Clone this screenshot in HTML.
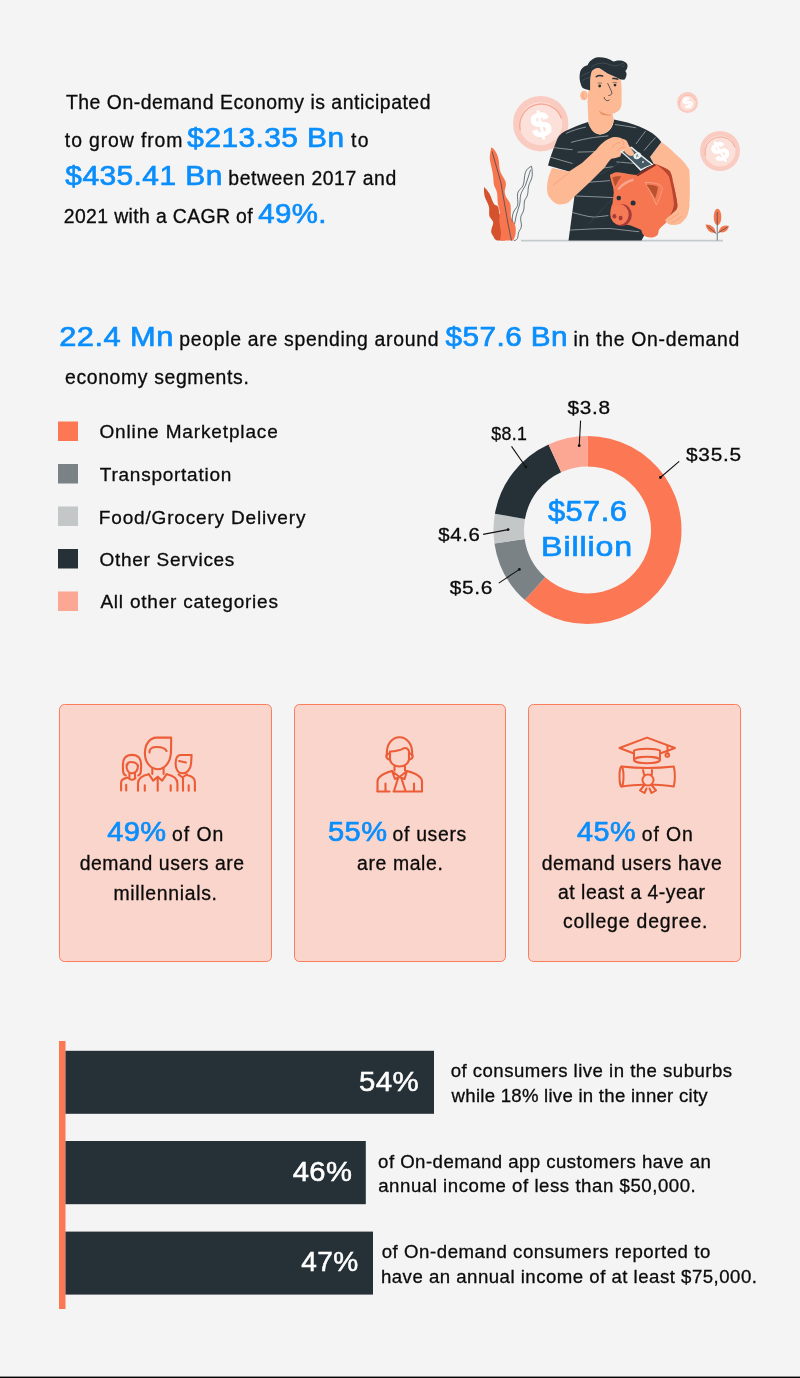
<!DOCTYPE html>
<html><head><meta charset="utf-8"><title>On-demand Economy</title>
<style>html,body{margin:0;padding:0;background:#f4f4f4;overflow:hidden}svg{display:block;will-change:transform}text{font-family:"Liberation Sans",sans-serif}</style>
</head><body>
<svg width="800" height="1378" viewBox="0 0 800 1378">
<rect width="800" height="1378" fill="#f4f4f4"/>
<circle cx="540.7" cy="123.7" r="27.7" fill="#f9cbc1"/>
<circle cx="540.7" cy="123.7" r="21.5" fill="#fbe1da"/>
<path d="M520.28,130.37 A21.5,21.5 0 0 1 561.56,118.54" fill="none" stroke="#f6a895" stroke-width="1.39"/>
<text x="540.7" y="136.65" font-size="35" font-weight="bold" fill="#ffffff" stroke="#ffffff" stroke-width="1.05" text-anchor="middle" transform="rotate(-12 540.7 123.7)">$</text>
<circle cx="687.5" cy="102.5" r="10.5" fill="#f9cbc1"/>
<circle cx="687.5" cy="102.5" r="8" fill="#fbe1da"/>
<path d="M679.90,104.98 A8,8 0 0 1 695.26,100.58" fill="none" stroke="#f6a895" stroke-width="0.70"/>
<text x="687.5" y="107.9" font-size="15" font-weight="bold" fill="#ffffff" stroke="#ffffff" stroke-width="0.45" text-anchor="middle" transform="rotate(-30 687.5 102.5)">$</text>
<circle cx="720" cy="151" r="20" fill="#f9cbc1"/>
<circle cx="720" cy="151" r="15.5" fill="#fbe1da"/>
<path d="M705.27,155.81 A15.5,15.5 0 0 1 735.03,147.28" fill="none" stroke="#f6a895" stroke-width="1.00"/>
<text x="720" y="160.72" font-size="27" font-weight="bold" fill="#ffffff" stroke="#ffffff" stroke-width="0.81" text-anchor="middle" transform="rotate(-30 720 151)">$</text>
<path d="M484.1,186.9 C486.5,189 488,191.5 489.4,193.4 C490.8,196 491.8,199 492.5,201 C493.3,203 494,204 494.8,204.8 C496.5,205.5 497.8,206 498.2,207.1 C499,209.5 499,211.5 499,213.2 L503,217.7 L505,240.6 L497,240.6 C495,239.5 493.8,238 493.2,236 C491.5,234 490.8,232 491.3,230 C491.8,227 493.5,224.5 493.2,222.3 C492.5,219.5 490,218 489.4,216.2 C488.8,213 489.5,210 489,207 C488,203 486,200 484.9,197.2 C484,194 483.8,190 484.1,186.9 Z" fill="#d4532e"/>
<path d="M491.3,147.2 C493.5,148.5 495.3,150.5 496.3,153 C497.5,155 498.2,157.5 498.6,159.8 C499.2,163 499.2,166 499.7,169 C500,171 500.8,172.8 501.6,174.3 C502.8,176.5 504.5,179 505.4,181.2 C506,183 506,184.5 505.8,185.7 C505.5,188 504.6,190 504.7,191.8 C504.9,194 505.5,195.8 506.2,197.2 C507.5,199.3 509,201 510,203.3 C510.7,205 510.8,207 510.8,208.6 L510.8,216.2 C511.3,218.5 512.5,220.5 513.8,222.3 C515,224.5 515.6,226.5 515.7,228.4 C515.9,231 515.8,233.5 515.3,235.3 C514.8,237.5 514,239.3 513,240.6 L500.1,240.6 C500.5,237.5 501.3,234 500.9,231.5 C500.4,227.5 499.4,223.5 499.3,220 C499.2,217.5 499.9,214.8 499.7,212.4 C499.5,209 498.2,206.5 497.8,203.3 C497.3,199.5 497.6,196 497,192.6 C496.5,189.5 494.6,187.5 494,185 C493.3,181.5 493.5,177.5 492.9,174.3 C492.3,171 491.6,168 491,165.2 C490.4,162.5 489.8,160 489.8,157.5 C489.8,155 490.2,152.5 490.6,150.7 Z" fill="#f7764f"/>
<path d="M492.1,151.4 C495,162 498,172 500.9,182.7 C504,200 507,220 511.5,240.6" stroke="#37474f" stroke-width="0.75" fill="none"/>
<path d="M531.4,166.3 C532.3,169.5 532.5,173.5 532.1,176.6 C531.5,180 529.5,182.5 528.7,185.7 C527.8,189 528.3,192 527.5,194.9 C526.8,197.5 525,199 524.5,201 C523.8,204 524.5,207 523.7,210.1 C523,213 521,215 520.7,217.7 C520.4,220.5 521.6,223.5 521.4,226.1 C521.2,229 519.2,230.5 518.4,233 C517.8,235 518.3,236.5 517.6,238.3 C516.5,240 515,240.6 513.8,240.6 M512.3,221.5 C512,218 512.5,215.5 513.1,213.2 C514,210 516.8,208 517.6,205.5 C518.5,202 517,197 517.6,193.4 C518.3,190 521.8,188.5 523,185.7 C524.5,182 524.2,176 525.3,172.8 C526,170.5 527.3,169.2 528.3,168.2 C529.3,167.3 530.5,166.6 531.4,166.3" stroke="#37474f" stroke-width="0.75" fill="none"/>
<path d="M530.6,169.7 C529,175 527,181 525.3,185.7 C523.5,189 521.5,191.5 520.7,194.9 C519.8,198.5 520.5,201.5 519.5,204.8 C518.5,208.5 516.8,212.5 516.1,216.2 C515.5,219 515.2,221.5 514.6,223.8" stroke="#37474f" stroke-width="0.75" fill="none"/>
<path d="M521,240.7 L723,240.7" stroke="#c5cacd" stroke-width="1.7"/>
<ellipse cx="717.5" cy="217" rx="3.8" ry="8.2" fill="#f4784f"/>
<path d="M705.5,224.5 Q707,233.4 716,233 Q714.5,224.1 705.5,224.5 Z" fill="#f4784f"/>
<path d="M729,226 Q726.75,234.2 718.5,232 Q720.75,223.8 729,226 Z" fill="#f4784f"/>
<path d="M717.25,240.5 L717.25,212 M716.5,234 L707.5,226 M718,233 L727.5,227" stroke="#37474f" stroke-width="0.7" fill="none"/>
<path d="M661.3,141.9 C667,146 672,150 675,153.8 C680,158 685,162 689.4,170 C690,185 690,195 689.4,205 C688.5,212 685,219 680,223.8 C676,225 672,225 668,224 L655,165 L650,157 Z" fill="#fdb994"/>
<path d="M588,121.9 C580,124 572,128 565,131.3 C560,134 558,137 556.5,141 C553,150 550,158 548,165.5 L569,171.5 L574.5,196 L568.5,240.5 L641.5,240.5 L655,215 L660,175 L650,157 L661.3,141.9 C655,133 645,128 627.5,122.5 L613.8,119.4 C613.5,126 610,133 600,134.4 C594,134 590,128 588,121.9 Z" fill="#263238"/>
<clipPath id="shc"><path d="M588,121.9 C580,124 572,128 565,131.3 C560,134 558,137 556.5,141 C553,150 550,158 548,165.5 L569,171.5 L574.5,196 L568.5,240.5 L641.5,240.5 L655,215 L660,175 L650,157 L661.3,141.9 C655,133 645,128 627.5,122.5 L613.8,119.4 C613.5,126 610,133 600,134.4 C594,134 590,128 588,121.9 Z"/></clipPath>
<path d="M566.1,133.4 C572,130.5 579,128.5 586,127 M571,142.4 C580,140 587,138.5 593.7,137.5 C599,136.8 604,136.2 608.4,135.9 M614.9,124.5 C622,125.5 629,126.5 636,127.8 M551.5,147.2 C558,148.2 565,149 572.6,149.7 M577.5,152.1 C586,152 595,151.6 603.5,151.3 M549.9,157 C557,159 565,161.5 572.6,163.5 M636,144 C639,139.5 642.5,135 645.7,131 M644.1,150.5 C648,146 651.5,141.5 655.5,137.5 M616.5,161.9 C623,162.5 629,163 636,163.5 M600.2,168.4 C605,167.8 609,167.2 613.2,166.7 M588.9,182.2 C596,181.8 603,181.2 610,180.6 M575.9,196 C588,196.5 600,197 613.2,197.6 M571,212.2 C579,214 586,216.5 593.7,217.1 C599,217 604,216 608.4,215.5 M569.4,230.1 C583,229.5 596,228.5 610,228.5 C620,229.5 630,231 639.2,231.7" stroke="#c9d0d3" stroke-width="0.75" fill="none" opacity="0.8" clip-path="url(#shc)"/>
<path d="M588.9,223.6 L613.2,197.6 M600.2,174.9 L626.2,158.6" stroke="#3c4b53" stroke-width="0.6" fill="none"/>
<path d="M587.5,100 L588.4,122 C590,129 594,134 600,134.4 C608,134 612.5,128 613.8,120 L612,112 Z" fill="#fdb994"/>
<ellipse cx="584" cy="95.5" rx="3.8" ry="4.8" fill="#fdb994"/>
<path d="M583,93 C582,96 583,98 585,99" stroke="#e9906a" stroke-width="0.5" fill="none"/>
<path d="M591.9,71 C594,68.5 597,67.5 599,68 C603,70 605,72.5 607.6,73.4 C612,75.5 617,77.5 620.7,79.2 C621.5,84 621.8,90 621.6,94 L621.6,104.2 C621,108 619.5,110 619,110.4 C616,112.5 614,113.5 612,113.9 C609,114.5 606,114 605,113 C601,112 599,111 598.9,110.4 C594,108 590,106 588,103 C587.5,96 588.5,88 590.1,84 L590.5,76 Z" fill="#fdb994"/>
<path d="M598.9,110.4 C602,113 607,114.8 612,114.7 C610,115.8 606,116 602,114.8 C600.5,113.5 599.5,112 598.9,110.4 Z" fill="#ea9068"/>
<path d="M582.2,87.6 C580.5,84 579.4,80 579.6,76.2 C579.8,72.5 580.5,70.5 581.4,69.2 C583,67 585.5,65.8 587.5,65.3 C588.5,63 589.5,61.5 591,60.5 C593,58.5 595.5,57.5 598,57.2 C601,57 604,57.5 606.7,58.3 C609,59 611.5,60.5 613.7,61.6 C615.5,60.8 618,60.3 620.7,60.5 C624,61 626.5,62.5 627.3,64.5 C628,66.5 627,69.5 625.3,71 C626.5,72.5 626.8,74 626.4,75.4 C626,77.5 625,79 624.2,79.7 L620.7,79.5 C617,77.5 612,75.5 607.6,73.4 C605,72.3 603,70 599,68 C596,67.5 593.5,69 591.9,71 C590.6,74 590.3,78 590.1,82 L590.1,90.2 C587,90 584,89 582.2,87.6 Z" fill="#263238"/>
<path d="M591,67.5 C596,63 603,62 609,64.5 C614,66.5 618,66 621,64 C623,62.5 624.5,63.5 624,65.5 C623.5,67 621.5,67 621.5,65.5 M581.4,76.2 C584,74.5 587,73 589.8,72 M582.2,80.5 C584.5,79 587,78 590,77.5" stroke="#56666e" stroke-width="0.5" fill="none"/>
<circle cx="599.7" cy="86" r="1.4" fill="#263238"/><circle cx="615" cy="85.1" r="1.4" fill="#263238"/>
<path d="M596.3,76.6 C598,75.6 600.5,75.4 602.6,76 M612.9,78.6 C614.5,78.2 616.5,78.5 617.8,79.2" stroke="#263238" stroke-width="1.5" stroke-linecap="round" fill="none"/>
<path d="M597.5,83.3 C599,82.8 600.5,82.8 602,83.3 M612.5,82.6 C614,82.2 615.5,82.3 617,82.8" stroke="#263238" stroke-width="0.5" fill="none"/>
<path d="M607.6,83.2 C609.5,87 611,90 612,93 C611.5,95 609.5,95.6 608.4,95.5" stroke="#263238" stroke-width="0.75" fill="none"/>
<path d="M604.1,97.2 C604.6,99.5 606,100.8 607.5,100.7 C608.5,100.6 609.2,100.2 609.5,99.8" stroke="#263238" stroke-width="0.8" fill="none"/>
<circle cx="598" cy="90.5" r="0.35" fill="#e9906a"/><circle cx="600" cy="91.5" r="0.35" fill="#e9906a"/><circle cx="615.5" cy="90" r="0.35" fill="#e9906a"/><circle cx="617.5" cy="91" r="0.35" fill="#e9906a"/>
<path d="M552,168 C549,174 547,181 547,188 C547,193 548,196 550,198 C553,202 556,204.5 560,204.5 C564,204.5 567,203.5 569,202 C571,200 573,198 575,196 L590,182 L605,167 C607,164 609,161 611.3,158.8 C614,158.3 617,157.5 620.2,156.4 L621.8,152.3 C624,151 627,149 629.1,146.6 L628.3,144.2 C628,143 627.2,141.5 625.9,140.1 C625,139.5 623.5,139 621.8,138.5 C620.5,137.8 618.5,137 616,136.9 C614,136.8 612,137.2 609.6,138.5 C605,140 600,145 596,150 L582,163 L569,171.5 Z" fill="#fdb994"/>
<path d="M553,185.5 C558,181 563,177 569,173" stroke="#e58b64" stroke-width="0.45" fill="none"/>
<path d="M620.2,151.5 Q626,149.5 631.6,146.6 Q641,155 653.5,164.5 Q646.5,167 640.5,171 Q631,160 620.2,151.5 Z" fill="#eef1f2"/>
<path d="M622.4,151.7 Q627,150 631.4,148.4 Q640.5,156 651.3,164.4 Q646,166.3 641,169 Q632,160 622.4,151.7 Z" fill="#455a64"/>
<ellipse cx="637.3" cy="155.8" rx="4" ry="3.2" fill="#eef1f2" transform="rotate(-25 637.3 155.8)"/><circle cx="643" cy="162" r="0.9" fill="#eef1f2"/>
<path d="M636,155 L638.5,156.5 M637.5,154 L636.5,157.5" stroke="#455a64" stroke-width="0.6"/>
<path d="M627,143.5 C629.5,146 632,149.5 634,153.1 C634.2,154.3 633.8,155.2 633.2,155.6 C631.8,156 630.2,156 629.1,155.6 C627,154.5 625,152.5 624,150.5 C624.5,148 625.5,145.5 627,143.5 Z" fill="#fdb994"/>
<path d="M612.5,147.5 C614.5,143.5 618,142 621,143 M617.5,151 C619.5,148 622.5,146.5 625,147.5 M621,139 C623,140.5 624,142.5 623.5,145" stroke="#e58b64" stroke-width="0.5" fill="none"/>
<path d="M655,163.8 C662,166.5 667,168.5 670,171.3 C672,176 672.5,178 672.5,180 C674.5,188 676.5,197 677.5,205 C677.5,207 677,208.5 676.3,210 C673,214 670,218 667.5,221.3 C664,225 660,228 658.8,230 C658.5,233 658,234 657.5,235 C655,237 652.5,237.7 650,237.5 C646,237.3 643.5,235.5 642.5,233.8 C641.8,232 641.5,231 641.3,230 C637,228 633,226 628.8,225 C622,224.5 618,223 614,221 C610.5,217.5 610,212 611,208 C611.5,206 612,204.5 612.5,203.8 C613,199 613.5,195 613.8,192.5 C613,185 611.5,179 610,175 C612,173.8 614,172.8 616.3,172.5 C620,172.5 624,173.3 627.5,173.8 C630.5,174.3 633.5,174.8 636.3,175 Z" fill="#f57651"/>
<path d="M655,163.8 C662,166.5 667,168.5 670,171.3 C672,176 672.5,178 672.5,180 C674.5,188 676.5,197 677.5,205 C677.5,207 677,208.5 676.3,210 C673,214 670,218 667.5,221.3 C669.5,216 673.5,210 674,204 C673,194 671,184 669,176.5 C665,171 660,167 655,163.8 Z" fill="#b8452e"/>
<path d="M636.3,175 L655,163.8 L655.8,165.5 L637.8,176.3 Z" fill="#7d2a22"/>
<path d="M610,175 C612,173.8 614,172.8 616.3,172.5 C620,172.5 623.5,173 626.3,173.8 C622,178 618.5,184 615,190 C612.5,186 610.5,180 610,175 Z" fill="#f57a56"/>
<path d="M612.5,177.5 C615,176.3 618.5,176 621.5,176.5 C619,179.5 617,183 615.3,186.5 C614,183.5 612.8,180.5 612.5,177.5 Z" fill="#b9512f"/>
<path d="M645,182.5 C649,182.2 654,183 657.5,183.8 C660,185 662,186.5 662.5,188.8 C661,193 660,197 658.8,200 C658,202 657,204 656.3,205 C653,197 649,189 645,182.5 Z" fill="#f57a56" stroke="#f9d2c6" stroke-width="0.4"/>
<path d="M646.5,185 C650,184.5 654.5,185.3 658,186.8 C657.5,191 656.5,195 655,198.5 C652.5,193.5 649.5,189 646.5,185 Z" fill="#b9512f"/>
<path d="M618.8,188.8 C622,185 627,181.5 632.5,180" stroke="#f9a590" stroke-width="2.4" stroke-linecap="round" fill="none"/>
<circle cx="618.8" cy="198.1" r="2.3" fill="#263238"/><circle cx="633.1" cy="203.1" r="2.5" fill="#263238"/>
<ellipse cx="621.5" cy="215" rx="10.3" ry="11" fill="#a93a3a"/>
<ellipse cx="619.5" cy="214.5" rx="9.2" ry="10.4" fill="#f57a56"/>
<ellipse cx="614.4" cy="216.3" rx="2" ry="2.3" fill="#a93a3a"/><ellipse cx="620.6" cy="218.1" rx="2" ry="2.3" fill="#a93a3a"/>
<path d="M676.3,210 C679,207 684,205.5 689.4,205 C689,211 687.5,216 686.3,217.5 C684,220.5 682,222.5 680,223.8 C676,225 672,225 670,224.4 C667.5,223 666,222 665,220 C668,217 672,214 676.3,210 Z" fill="#fdb994"/>
<path d="M668,220 C672,218 676,216 679,213 M671,223 C675,221 679,219 682,216" stroke="#e58b64" stroke-width="0.45" fill="none"/>
<rect x="58" y="421.5" width="20" height="19.5" fill="#fc7753"/>
<rect x="58" y="464" width="20" height="19.5" fill="#7b8286"/>
<rect x="58" y="506.5" width="20" height="19.5" fill="#c4c7c8"/>
<rect x="58" y="549" width="20" height="19.5" fill="#263137"/>
<rect x="58" y="591.5" width="20" height="19.5" fill="#fca794"/>
<path d="M587.50,436.00 A94,94 0 1 1 524.85,600.07 L545.18,577.34 A63.5,63.5 0 1 0 587.50,466.50 Z" fill="#fc7753"/>
<path d="M524.85,600.07 A94,94 0 0 1 494.46,543.41 L524.65,539.06 A63.5,63.5 0 0 0 545.18,577.34 Z" fill="#7b8286"/>
<path d="M494.46,543.41 A94,94 0 0 1 494.93,513.68 L524.96,518.97 A63.5,63.5 0 0 0 524.65,539.06 Z" fill="#c4c7c8"/>
<path d="M494.93,513.68 A94,94 0 0 1 548.52,444.46 L561.17,472.22 A63.5,63.5 0 0 0 524.96,518.97 Z" fill="#263137"/>
<path d="M548.52,444.46 A94,94 0 0 1 587.50,436.00 L587.50,466.50 A63.5,63.5 0 0 0 561.17,472.22 Z" fill="#fca794"/>
<line x1="580.6" y1="420.6" x2="579.2" y2="445.7" stroke="#111" stroke-width="1.1"/>
<circle cx="579.2" cy="445.7" r="1.4" fill="#111"/>
<line x1="511.5" y1="446.4" x2="525.9" y2="467" stroke="#111" stroke-width="1.1"/>
<circle cx="525.9" cy="467" r="1.4" fill="#111"/>
<line x1="679.2" y1="461.4" x2="660.4" y2="477.5" stroke="#111" stroke-width="1.1"/>
<circle cx="660.4" cy="477.5" r="1.4" fill="#111"/>
<line x1="483.1" y1="534.4" x2="508.1" y2="529.6" stroke="#111" stroke-width="1.1"/>
<circle cx="508.1" cy="529.6" r="1.4" fill="#111"/>
<line x1="498.75" y1="583.1" x2="519.4" y2="569.4" stroke="#111" stroke-width="1.1"/>
<circle cx="519.4" cy="569.4" r="1.4" fill="#111"/>
<rect x="59.5" y="704.5" width="212.0" height="257" rx="5" fill="#fad5cb" stroke="#fa7d5c" stroke-width="1"/>
<rect x="294.5" y="704.5" width="211.0" height="257" rx="5" fill="#fad5cb" stroke="#fa7d5c" stroke-width="1"/>
<rect x="528.5" y="704.5" width="212.0" height="257" rx="5" fill="#fad5cb" stroke="#fa7d5c" stroke-width="1"/>
<g fill="none" stroke="#ec5d37" stroke-width="2.1" stroke-linecap="round" stroke-linejoin="round">
<path d="M171.2,737.6 L171,752 C170.6,762 165,769.2 157.7,769.2 C150.2,769.2 144.9,762 144.9,753 C144.9,743.5 150.5,737.6 156.5,737.6 Z"/>
<path d="M149.5,752.5 C149.3,748.5 152,747 157,747 C161.5,747 165,748 166.6,751"/>
<path d="M152.3,768.5 L152.3,773.9 M163.6,768.5 L163.6,773.9"/>
<path d="M148.7,774 L153.2,780.6 L157.7,776.7 L162.2,780.6 L166.7,774"/>
<path d="M138,790.7 L138,783 C138,778 143,775.5 148.7,774.2 M177.4,790.7 L177.4,783 C177.4,778 172.5,775.5 166.7,774.2"/>
<path d="M157.7,777.5 L157.7,790.7 M144.8,785.2 L144.8,790.7 M170.7,785.2 L170.7,790.7"/>
<path d="M125.8,775.5 C124.3,775 123.5,774 123.3,772.5 C122.5,766 123,760 125,757.5 C127,755.5 129.5,754.9 132,754.9 C134.5,754.9 137,755.5 139,757.5 C141,760 141.5,766 140.7,772.5 C140.5,774 139.5,775 138.3,775.5"/>
<path d="M126.6,764.5 C126,770 128.5,773.3 132,773.3 C135.5,773.3 138.2,770.5 137.9,765.5"/>
<path d="M127.3,765 C127.3,763 128.8,762 131,762 C134.5,762 137,763.5 138,765.75"/>
<path d="M129.4,773.5 L129.4,777.5 M135,773.5 L135,777.5 M128.5,778.2 C130,780.2 134,780.2 135.5,778.2"/>
<path d="M121.1,790.5 L121.1,782.5 C121.1,780 123,778.5 127.5,777.6 M126.2,784.8 L126.2,790.5"/>
<path d="M191.6,755 L191,764 C190.5,769.5 187,773.3 182.5,773.3 C178,773.3 175.6,769 175.6,763.5 C175.6,758 177.5,755 181,755 Z"/>
<path d="M179.1,761 L185.9,762.6"/>
<path d="M178.6,774.4 L182.5,777.5 L187,774.4 M194.9,790.7 L194.9,782 C194.9,778 191,775.8 187,775 M183,778 L183,790.7 M188.7,785.2 L188.7,790.7"/>
</g><g fill="none" stroke="#ec5d37" stroke-width="2.1" stroke-linecap="round" stroke-linejoin="round">
<path d="M387,755.5 C386,745 391.5,737.2 399.5,737.2 C407.5,737.2 413,745 412,755.5"/>
<path d="M390,751.5 C396,751.5 401,750 404,748.2 C406.5,747.5 408.5,749 409,751.5 L409,759.5 C408.5,763.5 404.5,766.5 399.5,766.5 C394.5,766.5 390.5,763.5 390,759.5 Z"/>
<path d="M390,753.5 C387,753.5 386,755 386.3,756.5 C386.8,758.5 388.5,759.5 390,759.5 M409,753.5 C412,753.5 413,755 412.7,756.5 C412.2,758.5 410.5,759.5 409,759.5"/>
<path d="M394.5,766.5 L394.5,770.5 M405,766.5 L405,770.5"/>
<path d="M377.5,791.3 L377.5,781.5 C377.5,776.5 383,773.5 392,771 M422,791.3 L422,781.5 C422,776.5 416.5,773.5 407,771"/>
<path d="M377.5,791.5 L389.5,791.5 M393.5,791.5 L422,791.5"/>
<path d="M392,771 L399.5,777 L407,771 M392,771 L395,779 L399.5,777 L404.5,779 L407,771"/>
<path d="M398,778.5 L394,791 M401.5,778.5 L405.5,791"/>
<path d="M385.5,783.5 L385.5,791 M414,783.5 L414,791"/>
</g><g fill="none" stroke="#ec5d37" stroke-width="2.0" stroke-linecap="round" stroke-linejoin="round">
<path d="M634,753.5 L619.5,748 L647,737.6 L675,748 L660,753.5"/>
<path d="M634,760 L634,750.5 C638,748 656,748 660,750.5 L660,760"/>
<ellipse cx="647" cy="760" rx="13" ry="3.2"/>
<path d="M667.5,746 L667.5,753.5"/>
<rect x="665.5" y="753.5" width="3.6" height="3.3" rx="1.2"/>
<ellipse cx="621.5" cy="776.5" rx="2" ry="10"/>
<path d="M621.5,766.5 Q647.5,769.5 673.8,766.5 Q676,776.5 673.8,786.5 Q660,784.5 653,784.8 M643,784.8 Q634,784.8 621.5,786.5"/>
<circle cx="648" cy="780" r="5.5"/>
<path d="M643,770 L644.2,775 M652,770 L651.8,775"/>
<path d="M644.5,785 L640,790.5 L644.5,793 L646.5,788.5 M651.5,785 L656,790.5 L651.5,793 L649.5,788.5"/>
</g>
<rect x="59" y="1041" width="6.5" height="268" fill="#fc7753"/>
<rect x="65.5" y="1050.8" width="368.5" height="63.0" fill="#263137"/>
<rect x="65.5" y="1141" width="300.3" height="63.200000000000045" fill="#263137"/>
<rect x="65.5" y="1231.6" width="307.5" height="63.0" fill="#263137"/>
<text transform="translate(65.90 109) scale(1.0000 1)" font-size="19.4" letter-spacing="0.531" fill="#0b0b0b" stroke="#0b0b0b" stroke-width="0.3">The On-demand Economy is anticipated</text>
<text transform="translate(64.86 147) scale(1.0000 1)" font-size="19.4" letter-spacing="0.882" fill="#0b0b0b" stroke="#0b0b0b" stroke-width="0.3">to grow from</text>
<text transform="translate(187.35 147) scale(1.0864 1)" font-size="27.5" letter-spacing="0.400" fill="#0a8efc" stroke="#0a8efc" stroke-width="0.7">$213.35 Bn</text>
<text transform="translate(351.04 147) scale(1.0000 1)" font-size="19.4" letter-spacing="1.329" fill="#0b0b0b" stroke="#0b0b0b" stroke-width="0.3">to</text>
<text transform="translate(65.35 185) scale(1.0883 1)" font-size="27.5" letter-spacing="0.400" fill="#0a8efc" stroke="#0a8efc" stroke-width="0.7">$435.41 Bn</text>
<text transform="translate(228.31 185) scale(1.0000 1)" font-size="19.4" letter-spacing="0.552" fill="#0b0b0b" stroke="#0b0b0b" stroke-width="0.3">between 2017 and</text>
<text transform="translate(63.76 223) scale(1.0000 1)" font-size="19.4" letter-spacing="0.374" fill="#0b0b0b" stroke="#0b0b0b" stroke-width="0.3">2021 with a CAGR of</text>
<text transform="translate(258.19 223) scale(1.0689 1)" font-size="27.5" letter-spacing="0.400" fill="#0a8efc" stroke="#0a8efc" stroke-width="0.7">49%.</text>
<text transform="translate(59.24 346) scale(1.1219 1)" font-size="27.5" letter-spacing="0.400" fill="#0a8efc" stroke="#0a8efc" stroke-width="0.7">22.4 Mn</text>
<text transform="translate(179.14 346) scale(1.0000 1)" font-size="19.4" letter-spacing="0.715" fill="#0b0b0b" stroke="#0b0b0b" stroke-width="0.3">people are spending around</text>
<text transform="translate(445.57 346) scale(1.0808 1)" font-size="27.5" letter-spacing="0.400" fill="#0a8efc" stroke="#0a8efc" stroke-width="0.7">$57.6 Bn</text>
<text transform="translate(573.47 346) scale(1.0000 1)" font-size="19.4" letter-spacing="0.704" fill="#0b0b0b" stroke="#0b0b0b" stroke-width="0.3">in the On-demand</text>
<text transform="translate(64.98 384) scale(1.0000 1)" font-size="19.4" letter-spacing="0.642" fill="#0b0b0b" stroke="#0b0b0b" stroke-width="0.3">economy segments.</text>
<text transform="translate(99.44 438) scale(1.0000 1)" font-size="19" letter-spacing="0.861" fill="#0b0b0b" stroke="#0b0b0b" stroke-width="0.3">Online Marketplace</text>
<text transform="translate(99.86 481) scale(1.0000 1)" font-size="19" letter-spacing="0.738" fill="#0b0b0b" stroke="#0b0b0b" stroke-width="0.3">Transportation</text>
<text transform="translate(98.86 523.7) scale(1.0000 1)" font-size="19" letter-spacing="0.824" fill="#0b0b0b" stroke="#0b0b0b" stroke-width="0.3">Food/Grocery Delivery</text>
<text transform="translate(99.44 566) scale(1.0000 1)" font-size="19" letter-spacing="0.714" fill="#0b0b0b" stroke="#0b0b0b" stroke-width="0.3">Other Services</text>
<text transform="translate(100.38 607.6) scale(1.0000 1)" font-size="19" letter-spacing="0.787" fill="#0b0b0b" stroke="#0b0b0b" stroke-width="0.3">All other categories</text>
<text transform="translate(567.51 413.6) scale(1.1256 1)" font-size="18.5" letter-spacing="0.638" fill="#0b0b0b" stroke="#0b0b0b" stroke-width="0.3">$3.8</text>
<text transform="translate(491.13 439.9) scale(0.9605 1)" font-size="18.5" letter-spacing="0.448" fill="#0b0b0b" stroke="#0b0b0b" stroke-width="0.3">$8.1</text>
<text transform="translate(685.96 461.4) scale(1.1260 1)" font-size="18.5" letter-spacing="0.679" fill="#0b0b0b" stroke="#0b0b0b" stroke-width="0.3">$35.5</text>
<text transform="translate(438.23 540.6) scale(1.1002 1)" font-size="18.5" letter-spacing="0.600" fill="#0b0b0b" stroke="#0b0b0b" stroke-width="0.3">$4.6</text>
<text transform="translate(449.74 594) scale(1.1267 1)" font-size="18.5" letter-spacing="0.600" fill="#0b0b0b" stroke="#0b0b0b" stroke-width="0.3">$5.6</text>
<text transform="translate(547.95 520.7) scale(1.0643 1)" font-size="29" letter-spacing="0.400" fill="#0a8efc" stroke="#0a8efc" stroke-width="0.7">$57.6</text>
<text transform="translate(541.12 556) scale(1.1292 1)" font-size="28.5" letter-spacing="0.777" fill="#0a8efc" stroke="#0a8efc" stroke-width="0.7">Billion</text>
<text transform="translate(107.16 841) scale(1.0546 1)" font-size="27.5" letter-spacing="0.400" fill="#0a8efc" stroke="#0a8efc" stroke-width="0.7">49%</text>
<text transform="translate(171.99 841) scale(1.0000 1)" font-size="19.4" letter-spacing="0.970" fill="#0b0b0b" stroke="#0b0b0b" stroke-width="0.3">of On</text>
<text transform="translate(79.64 870) scale(1.0000 1)" font-size="19.4" letter-spacing="0.537" fill="#0b0b0b" stroke="#0b0b0b" stroke-width="0.3">demand users are</text>
<text transform="translate(113.42 899.5) scale(1.0000 1)" font-size="19.4" letter-spacing="0.688" fill="#0b0b0b" stroke="#0b0b0b" stroke-width="0.3">millennials.</text>
<text transform="translate(328.05 841) scale(1.0558 1)" font-size="27.5" letter-spacing="0.400" fill="#0a8efc" stroke="#0a8efc" stroke-width="0.7">55%</text>
<text transform="translate(392.61 841) scale(1.0000 1)" font-size="19.4" letter-spacing="0.666" fill="#0b0b0b" stroke="#0b0b0b" stroke-width="0.3">of users</text>
<text transform="translate(357.01 869.75) scale(1.0000 1)" font-size="19.4" letter-spacing="0.621" fill="#0b0b0b" stroke="#0b0b0b" stroke-width="0.3">are male.</text>
<text transform="translate(577.07 840.5) scale(1.0456 1)" font-size="27.5" letter-spacing="0.400" fill="#0a8efc" stroke="#0a8efc" stroke-width="0.7">45%</text>
<text transform="translate(641.85 840.5) scale(1.0000 1)" font-size="19.4" letter-spacing="0.898" fill="#0b0b0b" stroke="#0b0b0b" stroke-width="0.3">of On</text>
<text transform="translate(541.64 869.6) scale(1.0000 1)" font-size="19.4" letter-spacing="0.614" fill="#0b0b0b" stroke="#0b0b0b" stroke-width="0.3">demand users have</text>
<text transform="translate(558.08 899) scale(1.0000 1)" font-size="19.4" letter-spacing="0.488" fill="#0b0b0b" stroke="#0b0b0b" stroke-width="0.3">at least a 4-year</text>
<text transform="translate(562.98 928) scale(1.0000 1)" font-size="19.4" letter-spacing="0.844" fill="#0b0b0b" stroke="#0b0b0b" stroke-width="0.3">college degree.</text>
<text transform="translate(359.10 1091) scale(1.0312 1)" font-size="28.5" letter-spacing="0.400" fill="#ffffff" stroke="#ffffff" stroke-width="0.55">54%</text>
<text transform="translate(292.69 1181) scale(1.0242 1)" font-size="28.5" letter-spacing="0.400" fill="#ffffff" stroke="#ffffff" stroke-width="0.55">46%</text>
<text transform="translate(301.26 1271) scale(0.9843 1)" font-size="28.5" letter-spacing="0.400" fill="#ffffff" stroke="#ffffff" stroke-width="0.55">47%</text>
<text transform="translate(450.64 1077) scale(1.0000 1)" font-size="18.6" letter-spacing="0.477" fill="#0b0b0b" stroke="#0b0b0b" stroke-width="0.3">of consumers live in the suburbs</text>
<text transform="translate(451.61 1101.75) scale(1.0000 1)" font-size="18.6" letter-spacing="0.257" fill="#0b0b0b" stroke="#0b0b0b" stroke-width="0.3">while 18% live in the inner city</text>
<text transform="translate(378.09 1167.6) scale(1.0000 1)" font-size="18.6" letter-spacing="0.469" fill="#0b0b0b" stroke="#0b0b0b" stroke-width="0.3">of On-demand app customers have an</text>
<text transform="translate(378.22 1192.4) scale(1.0000 1)" font-size="18.6" letter-spacing="0.552" fill="#0b0b0b" stroke="#0b0b0b" stroke-width="0.3">annual income of less than $50,000.</text>
<text transform="translate(381.72 1258.4) scale(1.0000 1)" font-size="18.6" letter-spacing="0.560" fill="#0b0b0b" stroke="#0b0b0b" stroke-width="0.3">of On-demand consumers reported to</text>
<text transform="translate(380.92 1283) scale(1.0000 1)" font-size="18.6" letter-spacing="0.497" fill="#0b0b0b" stroke="#0b0b0b" stroke-width="0.3">have an annual income of at least $75,000.</text>
<rect x="0" y="1376.2" width="800" height="0.9" fill="#777"/>
<rect x="0" y="1377" width="800" height="1" fill="#000"/>
</svg>
</body></html>
